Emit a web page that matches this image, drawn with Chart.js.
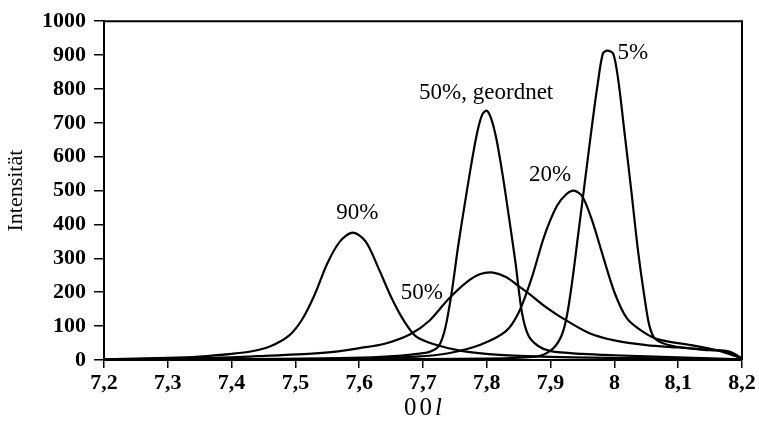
<!DOCTYPE html>
<html>
<head>
<meta charset="utf-8">
<title>Intensität 00l</title>
<script src="https://cdn.jsdelivr.net/npm/chart.js@4.4.1/dist/chart.umd.min.js"></script>
<style>
  html, body { margin: 0; padding: 0; background: #fff; }
  #wrap { width: 759px; height: 430px; }
</style>
</head>
<body>
<div id="wrap"><canvas id="peakChart"></canvas></div>
<script>
// 00l reflection profiles, one x/y pair of arrays per sample
var x90 = [7.20, 7.30, 7.35, 7.40, 7.43, 7.46, 7.49, 7.51, 7.53, 7.55, 7.57, 7.59, 7.61, 7.63, 7.65, 7.67, 7.69, 7.72, 7.76, 7.82, 7.90, 8.00, 8.20]
var y90 = [2, 6, 10, 18, 25, 40, 72, 118, 192, 285, 350, 376, 350, 272, 186, 116, 68, 45, 27, 15, 9, 6, 2]

var x50 = [7.20, 7.30, 7.40, 7.46, 7.52, 7.56, 7.60, 7.64, 7.68, 7.71, 7.74, 7.77, 7.79, 7.81, 7.83, 7.85, 7.87, 7.89, 7.92, 7.96, 8.00, 8.05, 8.10, 8.15, 8.18, 8.20]
var y50 = [2, 4, 8, 13, 18, 24, 35, 48, 76, 116, 180, 232, 254, 258, 245, 218, 190, 160, 122, 80, 58, 44, 37, 30, 25, 5]

var x50g = [7.20, 7.40, 7.55, 7.62, 7.66, 7.69, 7.71, 7.725, 7.735, 7.745, 7.755, 7.765, 7.775, 7.785, 7.793, 7.800, 7.807, 7.815, 7.825, 7.835, 7.845, 7.855, 7.865, 7.88, 7.90, 7.95, 8.00, 8.10, 8.20]
var y50g = [0, 2, 5, 8, 12, 18, 24, 42, 95, 200, 335, 455, 570, 672, 725, 736, 712, 653, 544, 418, 287, 141, 73, 42, 26, 18, 14, 8, 2]

var x20 = [7.20, 7.50, 7.60, 7.69, 7.74, 7.79, 7.83, 7.85, 7.87, 7.89, 7.91, 7.925, 7.937, 7.95, 7.965, 7.98, 8.00, 8.02, 8.045, 8.07, 8.12, 8.16, 8.20]
var y20 = [1, 3, 5, 10, 20, 45, 85, 140, 240, 365, 455, 490, 500, 482, 412, 320, 200, 122, 83, 60, 44, 29, 5]

var x5 = [7.20, 7.60, 7.80, 7.86, 7.885, 7.905, 7.918, 7.926, 7.934, 7.942, 7.950, 7.958, 7.966, 7.974, 7.982, 7.989, 7.998, 8.006, 8.016, 8.027, 8.037, 8.048, 8.055, 8.064, 8.09, 8.14, 8.165, 8.185, 8.20]
var y5 = [0, 2, 4, 8, 13, 36, 76, 135, 234, 352, 471, 590, 708, 817, 905, 913, 905, 827, 669, 491, 323, 175, 100, 62, 42, 30, 28, 18, 2]

var seriesNames = ['90%', '50%', '50%, geordnet', '20%', '5%']

var xTickValues = [7.2, 7.3, 7.4, 7.5, 7.6, 7.7, 7.8, 7.9, 8.0, 8.1, 8.2]
var xTickLabels = ['7,2', '7,3', '7,4', '7,5', '7,6', '7,7', '7,8', '7,9', '8', '8,1', '8,2']
var yTickValues = [0, 100, 200, 300, 400, 500, 600, 700, 800, 900, 1000]

// where each peak's name sits, in axis units
var peakLabels = [
    { text: '90%', x: 7.597, y: 433 },
    { text: '50%', x: 7.698, y: 199 },
    { text: '50%, geordnet', x: 7.799, y: 787 },
    { text: '20%', x: 7.899, y: 547 },
    { text: '5%', x: 8.029, y: 906 }
]

var serif = "'Liberation Serif', 'DejaVu Serif', serif"

function pairs(xs, ys) {
    return xs.map(function (x, i) { return { x: x, y: ys[i] } })
}

var labelPlugin = {
    id: 'peakText',
    afterDraw: function (chart) {
        var ctx = chart.ctx
        var a = chart.chartArea
        var sx = chart.scales.x
        var sy = chart.scales.y
        ctx.save()

        // closing frame on top and right
        ctx.strokeStyle = '#000'
        ctx.lineWidth = 2
        ctx.beginPath()
        ctx.moveTo(a.left, a.top)
        ctx.lineTo(a.right, a.top)
        ctx.lineTo(a.right, a.bottom)
        ctx.stroke()

        ctx.fillStyle = '#000'
        ctx.textAlign = 'center'
        ctx.textBaseline = 'middle'
        ctx.font = '23px ' + serif
        peakLabels.forEach(function (l) {
            ctx.fillText(l.text, sx.getPixelForValue(l.x), sy.getPixelForValue(l.y))
        })

        // y axis title
        ctx.save()
        ctx.translate(16, (a.top + a.bottom) / 2)
        ctx.rotate(-Math.PI / 2)
        ctx.font = '22px ' + serif
        ctx.fillText('Intensität', 0, 0)
        ctx.restore()

        // x axis title: 00l with italic l
        var size = 25
        ctx.font = size + 'px ' + serif
        var w0 = ctx.measureText('0').width
        ctx.font = 'italic ' + size + 'px ' + serif
        var wl = ctx.measureText('l').width
        var gap = 3
        var total = w0 * 2 + wl + gap * 2
        var cx = (a.left + a.right) / 2 - total / 2
        var ty = 408
        ctx.textAlign = 'left'
        ctx.font = size + 'px ' + serif
        ctx.fillText('0', cx, ty)
        ctx.fillText('0', cx + w0 + gap, ty)
        ctx.font = 'italic ' + size + 'px ' + serif
        ctx.fillText('l', cx + 2 * (w0 + gap), ty)

        ctx.restore()
    }
}

var ctx = document.getElementById('peakChart').getContext('2d')
var peakChart = new Chart(ctx, {
    type: 'line',
    data: {
        datasets: [
            { label: seriesNames[0], data: pairs(x90, y90) },
            { label: seriesNames[1], data: pairs(x50, y50) },
            { label: seriesNames[2], data: pairs(x50g, y50g) },
            { label: seriesNames[3], data: pairs(x20, y20) },
            { label: seriesNames[4], data: pairs(x5, y5) }
        ]
    },
    options: {
        responsive: true,
        maintainAspectRatio: false,
        animation: false,
        layout: { padding: { top: 18, right: 17, left: 0, bottom: 0 } },
        elements: {
            point: { radius: 0 },
            line: { borderColor: '#000', borderWidth: 2.2, fill: false, tension: 0.3, capBezierPoints: true }
        },
        plugins: {
            legend: { display: false },
            tooltip: { enabled: false }
        },
        scales: {
            x: {
                type: 'linear',
                min: 7.2,
                max: 8.2,
                afterFit: function (s) { s.height = 70 },
                afterBuildTicks: function (s) {
                    s.ticks = xTickValues.map(function (v) { return { value: v } })
                },
                ticks: {
                    autoSkip: false,
                    maxRotation: 0,
                    padding: 2,
                    color: '#000',
                    font: { family: serif, size: 22, weight: 'bold' },
                    callback: function (v, i) { return xTickLabels[i] }
                },
                grid: { drawOnChartArea: false, tickLength: 8, color: '#000', lineWidth: 1.5 },
                border: { color: '#000', width: 2 }
            },
            y: {
                min: 0,
                max: 1000,
                afterFit: function (s) { s.width = 104 },
                afterBuildTicks: function (s) {
                    s.ticks = yTickValues.map(function (v) { return { value: v } })
                },
                ticks: {
                    padding: 8,
                    color: '#000',
                    font: { family: serif, size: 22, weight: 'bold' },
                    callback: function (v) { return String(v) }
                },
                grid: { drawOnChartArea: false, tickLength: 10, color: '#000', lineWidth: 1.5 },
                border: { color: '#000', width: 2 }
            }
        }
    },
    plugins: [labelPlugin]
})
</script>
</body>
</html>
